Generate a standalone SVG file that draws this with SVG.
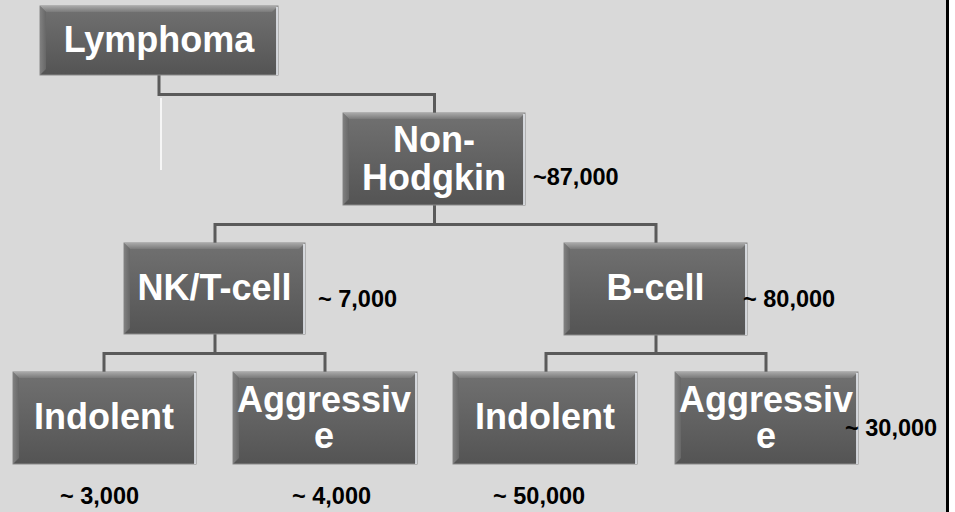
<svg xmlns="http://www.w3.org/2000/svg" width="955" height="512" viewBox="0 0 955 512">
<defs>
<linearGradient id="face" x1="0" y1="0" x2="0" y2="1">
<stop offset="0" stop-color="#717171"/>
<stop offset="1" stop-color="#545454"/>
</linearGradient>
<linearGradient id="topbev" x1="0" y1="0" x2="0" y2="1">
<stop offset="0" stop-color="#a8a8a8"/>
<stop offset="1" stop-color="#7a7a7a"/>
</linearGradient>
<linearGradient id="leftbev" x1="0" y1="0" x2="1" y2="0">
<stop offset="0" stop-color="#808080"/>
<stop offset="1" stop-color="#676767"/>
</linearGradient>
</defs>
<style>
.box{fill:url(#face);stroke:#8a8a8a;stroke-width:1}
.lbl{font-family:"Liberation Sans",Arial,sans-serif;font-weight:bold;fill:#ffffff;font-size:36px;text-anchor:middle}
.num{font-family:"Liberation Sans",Arial,sans-serif;font-weight:bold;fill:#000000;font-size:23.5px}
.conn{fill:none;stroke:#5a5a5a;stroke-width:3}
.hl{stroke:#f4f8ff;stroke-width:1.5}
.sh{stroke:#4a4a4a;stroke-width:1.5}
</style>
<rect x="0" y="0" width="955" height="512" fill="#d9d9d9"/>
<rect x="949" y="0" width="6" height="512" fill="#ffffff"/>
<rect x="946" y="0" width="3" height="512" fill="#000000"/>

<g id="connectors">
<path class="conn" d="M159,75 V94.5 H434.5 V113"/>
<line x1="161" y1="98" x2="161" y2="170" stroke="#ffffff" stroke-width="1.5"/>
<path class="conn" d="M434.5,205 V224.5 H215 V243"/>
<path class="conn" d="M434.5,224.5 H656 V243"/>
<path class="conn" d="M215,334 V353.5 H104 V372"/>
<path class="conn" d="M215,353.5 H325 V372"/>
<path class="conn" d="M656,335 V353.5 H546 V372"/>
<path class="conn" d="M656,353.5 H766 V372"/>
</g>

<g id="lymphoma">
<rect class="box" x="40" y="6" width="238" height="69"/>
<polygon points="40,6 278,6 272,12 46,12" fill="url(#topbev)"/>
<polygon points="40,6 46,12 46,69 40,75" fill="url(#leftbev)"/>
<line class="hl" x1="277" y1="7" x2="277" y2="75"/>
<text class="lbl" x="159" y="52">Lymphoma</text>
</g>

<g id="non-hodgkin">
<rect class="box" x="343" y="113" width="182" height="92"/>
<polygon points="343,113 525,113 519,119 349,119" fill="url(#topbev)"/>
<polygon points="343,113 349,119 349,199 343,205" fill="url(#leftbev)"/>
<line class="hl" x1="524" y1="114" x2="524" y2="205"/>
<text class="lbl" x="434" y="152">Non-</text>
<text class="lbl" x="434" y="190">Hodgkin</text>
</g>

<g id="nkt-cell">
<rect class="box" x="124" y="243" width="181" height="91"/>
<polygon points="124,243 305,243 299,249 130,249" fill="url(#topbev)"/>
<polygon points="124,243 130,249 130,328 124,334" fill="url(#leftbev)"/>
<line class="hl" x1="304" y1="244" x2="304" y2="334"/>
<text class="lbl" x="214.5" y="300">NK/T-cell</text>
</g>

<g id="b-cell">
<rect class="box" x="564" y="243" width="183" height="92"/>
<polygon points="564,243 747,243 741,249 570,249" fill="url(#topbev)"/>
<polygon points="564,243 570,249 570,329 564,335" fill="url(#leftbev)"/>
<line class="hl" x1="746" y1="244" x2="746" y2="335"/>
<text class="lbl" x="655.5" y="300">B-cell</text>
</g>

<g id="t-indolent">
<rect class="box" x="13" y="372" width="183" height="92"/>
<polygon points="13,372 196,372 190,378 19,378" fill="url(#topbev)"/>
<polygon points="13,372 19,378 19,458 13,464" fill="url(#leftbev)"/>
<line class="hl" x1="195" y1="373" x2="195" y2="464"/>
<text class="lbl" x="104" y="429">Indolent</text>
</g>

<g id="t-aggressive">
<rect class="box" x="233" y="372" width="184" height="92"/>
<polygon points="233,372 417,372 411,378 239,378" fill="url(#topbev)"/>
<polygon points="233,372 239,378 239,458 233,464" fill="url(#leftbev)"/>
<line class="hl" x1="416" y1="373" x2="416" y2="464"/>
<text class="lbl" x="324" y="412">Aggressiv</text>
<text class="lbl" x="324" y="448">e</text>
</g>

<g id="b-indolent">
<rect class="box" x="453" y="372" width="184" height="92"/>
<polygon points="453,372 637,372 631,378 459,378" fill="url(#topbev)"/>
<polygon points="453,372 459,378 459,458 453,464" fill="url(#leftbev)"/>
<line class="hl" x1="636" y1="373" x2="636" y2="464"/>
<text class="lbl" x="545" y="429">Indolent</text>
</g>

<g id="b-aggressive">
<rect class="box" x="675" y="372" width="183" height="92"/>
<polygon points="675,372 858,372 852,378 681,378" fill="url(#topbev)"/>
<polygon points="675,372 681,378 681,458 675,464" fill="url(#leftbev)"/>
<line class="hl" x1="857" y1="373" x2="857" y2="464"/>
<text class="lbl" x="766" y="412">Aggressiv</text>
<text class="lbl" x="766" y="448">e</text>
</g>

<g id="labels">
<text class="num" x="533" y="185">~87,000</text>
<text class="num" x="318" y="307">~ 7,000</text>
<text class="num" x="743" y="307">~ 80,000</text>
<text class="num" x="845" y="436">~ 30,000</text>
<text class="num" x="60" y="504">~ 3,000</text>
<text class="num" x="292" y="504">~ 4,000</text>
<text class="num" x="493" y="504">~ 50,000</text>
</g>
</svg>
